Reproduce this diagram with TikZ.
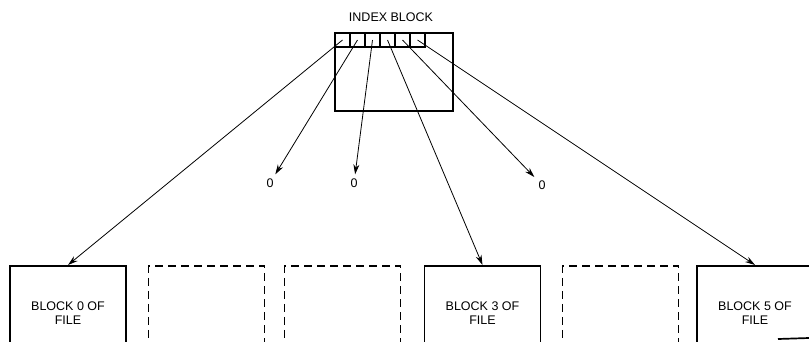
\documentclass[tikz,border=0pt]{standalone}
\usepackage{fontspec}
\setmainfont{Liberation Sans}
\usetikzlibrary{arrows.meta}

\begin{document}
\begin{tikzpicture}[x=1pt, y=-1pt, >={Stealth[length=10pt,width=6pt]},
    lbl/.style={font=\fontsize{12.5}{14}\selectfont},
    filebox/.style={draw, line width=1.7pt, minimum width=116pt, minimum height=94pt,
        anchor=north, align=center, lbl},
    emptybox/.style={filebox, dash pattern=on 8pt off 5pt},
    cell/.style={draw, line width=1.2pt, minimum width=15pt, minimum height=14pt, inner sep=0pt},
    ptr/.style={->, line width=0.8pt},
    zero/.style={lbl, inner sep=4pt}]
    \useasboundingbox (0,0) rectangle (809,341);
    \clip (0,0) rectangle (809,341);

    \node[draw, line width=1.7pt, minimum width=118pt, minimum height=78pt, inner sep=0pt] (idx) at (394,72) {};
    \node[lbl] (title) at (391,17) {INDEX BLOCK};
    \foreach \i in {0,...,5}
        \node[cell] (c\i) at ({342.5+15*\i},40) {};

    \node[filebox] (b0) at (68,265) {BLOCK 0 OF\\FILE};
    \node[emptybox] (e1) at (206.5,265) {};
    \node[emptybox] (e2) at (342.5,265) {};
    \node[filebox] (b3) at (482.5,265) {BLOCK 3 OF\\FILE};
    \node[emptybox] (e4) at (620.5,265) {};
    \node[filebox] (b5) at (755,265) {BLOCK 5 OF\\FILE};
    \draw[line width=1.7pt] (778,339) -- (809,338);

    \node[zero] (z1) at (270,183) {0};
    \node[zero] (z2) at (354,183) {0};
    \node[zero] (z4) at (542,185) {0};

    \draw[ptr] (c0.center) -- (b0.north);
    \draw[ptr] (c1.center) -- (z1);
    \draw[ptr] (c2.center) -- (z2);
    \draw[ptr] (c3.center) -- (b3.north);
    \draw[ptr] (c4.center) -- (z4);
    \draw[ptr] (c5.center) -- (b5.north);
\end{tikzpicture}
\end{document}
